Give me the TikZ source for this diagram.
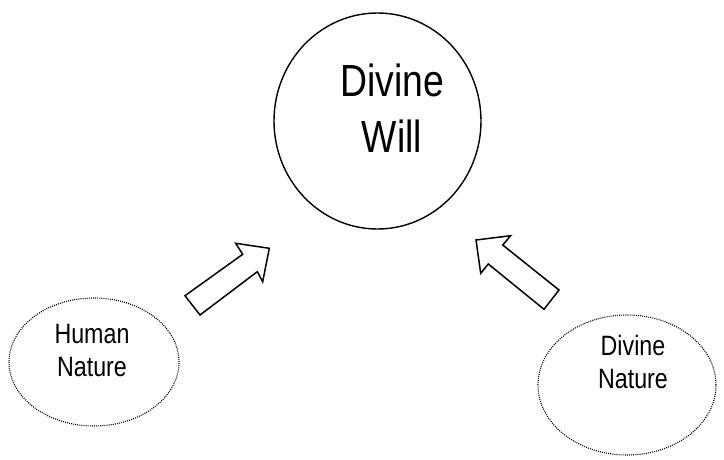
\documentclass[tikz,border=0pt]{standalone}
\usepackage{fontspec}
\setmainfont{Liberation Sans}[FakeStretch=0.83]
\usetikzlibrary{shapes.geometric}
\begin{document}
\begin{tikzpicture}[x=1pt,y=-1pt,
  bigoval/.style={draw=black,line width=1.4pt,ellipse,inner sep=0pt},
  dotoval/.style={draw=black,line width=1.1pt,dash pattern=on 1pt off 1.1pt,ellipse,inner sep=0pt},
  bigtxt/.style={align=center,font=\fontsize{45}{56}\selectfont,inner sep=0pt,anchor=base},
  smalltxt/.style={align=center,font=\fontsize{28}{33}\selectfont,inner sep=0pt,anchor=base},
  blockarrow/.style={draw=black,line width=1.5pt,fill=white,line join=miter}]
\useasboundingbox (0,0) rectangle (724,460);
\node[bigoval,minimum width=207pt,minimum height=216pt] (will) at (377.5,121) {};
\node[bigtxt] (willtxt) at (392,153) {Divine\\Will};
\node[dotoval,minimum width=170pt,minimum height=128pt] (human) at (94,362) {};
\node[smalltxt] (humantxt) at (92,376) {Human\\Nature};
\node[dotoval,minimum width=178pt,minimum height=140pt] (divnat) at (627,385) {};
\node[smalltxt] (divnattxt) at (633,388) {Divine\\Nature};
\draw[blockarrow] (185,295.7) -- (242.7,254.3) -- (235.7,243.3) -- (269.3,248.3) -- (262.7,281.7) -- (257.3,271.7) -- (200,315) -- cycle;
\draw[blockarrow] (476,240) -- (510.7,235.7) -- (502.7,245) -- (559,290) -- (544,309.3) -- (488.3,264) -- (480.7,273.3) -- cycle;
\end{tikzpicture}
\end{document}
